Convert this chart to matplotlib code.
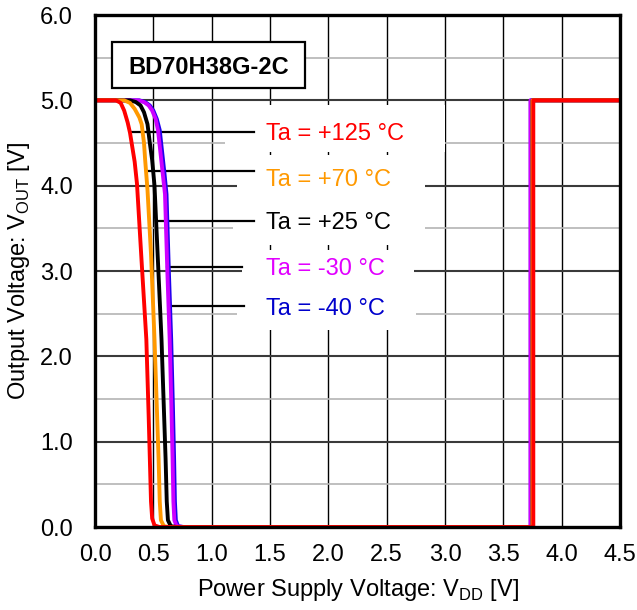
import matplotlib
matplotlib.use("Agg")
import matplotlib.pyplot as plt
from matplotlib.patches import Rectangle

plt.rcParams['font.family'] = ['Liberation Sans', 'DejaVu Sans']
plt.rcParams['mathtext.fontset'] = 'custom'
plt.rcParams['mathtext.rm'] = 'Liberation Sans'

# ---- data ----
x_m40 = [0, 0.38, 0.43, 0.47, 0.50, 0.53, 0.555, 0.575, 0.595, 0.613, 0.633, 0.653, 0.668, 0.678, 0.685, 0.693, 0.712, 0.76, 3.735, 3.735, 4.5]
y_m40 = [5, 5, 4.98, 4.94, 4.88, 4.78, 4.65, 4.4, 4.15, 3.9, 3.0, 2.2, 1.4, 0.8, 0.3, 0.08, 0.01, 0, 0, 5, 5]

x_m30 = [0, 0.37, 0.42, 0.46, 0.49, 0.52, 0.54, 0.56, 0.58, 0.60, 0.62, 0.64, 0.655, 0.665, 0.672, 0.68, 0.70, 0.75, 3.733, 3.733, 4.5]
y_m30 = [5, 5, 4.98, 4.94, 4.88, 4.78, 4.65, 4.4, 4.15, 3.9, 3.0, 2.2, 1.4, 0.8, 0.3, 0.08, 0.01, 0, 0, 5, 5]

x_25 = [0, 0.30, 0.35, 0.39, 0.42, 0.45, 0.47, 0.49, 0.51, 0.54, 0.57, 0.59, 0.605, 0.615, 0.625, 0.65, 0.70, 3.75, 3.75, 4.5]
y_25 = [5, 5, 4.98, 4.94, 4.86, 4.72, 4.5, 4.3, 4.0, 3.1, 2.2, 1.4, 0.8, 0.3, 0.08, 0.01, 0, 0, 5, 5]

x_70 = [0, 0.25, 0.30, 0.34, 0.38, 0.40, 0.42, 0.43, 0.45, 0.48, 0.51, 0.53, 0.545, 0.555, 0.565, 0.59, 0.63, 3.75, 3.75, 4.5]
y_70 = [5, 5, 4.97, 4.9, 4.8, 4.72, 4.5, 4.3, 3.95, 3.2, 2.2, 1.4, 0.8, 0.3, 0.08, 0.01, 0, 0, 5, 5]

x_125 = [0, 0.18, 0.22, 0.25, 0.28, 0.30, 0.32, 0.34, 0.36, 0.40, 0.44, 0.46, 0.47, 0.48, 0.49, 0.51, 0.55, 3.757, 3.757, 4.5]
y_125 = [5, 5, 4.97, 4.88, 4.74, 4.62, 4.45, 4.28, 4.02, 3.1, 2.2, 1.3, 0.8, 0.3, 0.1, 0.02, 0, 0, 5, 5]

labels = ['Ta = +125 °C', 'Ta = +70 °C', 'Ta = +25 °C', 'Ta = -30 °C', 'Ta = -40 °C']
label_y = [4.64, 4.10, 3.59, 3.05, 2.58]
leader_y = [4.63, 4.17, 3.59, 3.05, 2.59]
leader_x0 = [0.30, 0.45, 0.55, 0.62, 0.65]
leader_x1 = [1.36, 1.36, 1.36, 1.26, 1.28]
label_colors = ['#FF0000', '#FF9900', '#000000', '#E100FF', '#0000CC']

title_text = 'BD70H38G-2C'
xticks = [0.0, 0.5, 1.0, 1.5, 2.0, 2.5, 3.0, 3.5, 4.0, 4.5]
yticks = [0.0, 1.0, 2.0, 3.0, 4.0, 5.0, 6.0]

# ---- figure ----
fig = plt.figure(figsize=(6.37, 6.10), dpi=100)
ax = fig.add_axes([95/637, 1-527/610, 525/637, 512/610])
ax.set_xlim(0, 4.5)
ax.set_ylim(0, 6)

# grid
for xv in [0.5, 1.0, 1.5, 2.0, 2.5, 3.0, 3.5, 4.0]:
    ax.axvline(xv, color='#000000', lw=1.0, zorder=1)
for yv in [1, 2, 3, 4, 5]:
    ax.axhline(yv, color='#3a3a3a', lw=1.5, zorder=1)
for yv in [0.5, 1.5, 2.5, 3.5, 4.5, 5.5]:
    ax.axhline(yv, color='#b4b4b4', lw=1.2, zorder=1)

# white boxes behind labels (hide grid)
boxes = [(1.114, 4.39, 3.0, 4.95), (1.22, 3.83, 2.83, 4.36), (1.18, 3.30, 2.83, 3.83),
         (1.26, 2.78, 2.73, 3.25), (1.22, 2.31, 2.75, 2.78)]
for (bx0, by0, bx1, by1) in boxes:
    ax.add_patch(Rectangle((bx0, by0), bx1-bx0, by1-by0, facecolor='white', edgecolor='none', zorder=2))

# curves
lw = 2.8
ax.plot(x_m40, y_m40, color='#2200EE', lw=lw, zorder=4, solid_joinstyle='round')
ax.plot(x_m30, y_m30, color='#CC00FF', lw=lw, zorder=5, solid_joinstyle='round')
ax.plot(x_25, y_25, color='#000000', lw=lw, zorder=6, solid_joinstyle='round')
ax.plot(x_70, y_70, color='#FF9900', lw=lw, zorder=7, solid_joinstyle='round')
ax.plot(x_125, y_125, color='#FF0000', lw=lw, zorder=8, solid_joinstyle='round')

# leader lines and labels
for lab, ly, ty, x0, x1, c in zip(labels, leader_y, label_y, leader_x0, leader_x1, label_colors):
    ax.plot([x0, x1], [ly, ly], color='black', lw=1.6, zorder=3)
    ax.text(1.466, ty, lab, color=c, fontsize=17, ha='left', va='center_baseline', zorder=9)

# title box
ax.add_patch(Rectangle((0.146, 5.14), 1.80-0.146, 5.68-5.14, facecolor='white',
                       edgecolor='black', lw=1.6, zorder=9))
ax.text((0.146+1.80)/2, 5.41, title_text, fontsize=17, fontweight='bold',
        ha='center', va='center_baseline', zorder=10)

# axes styling
ax.set_xticks(xticks)
ax.set_yticks(yticks)
ax.set_xticklabels([f'{v:.1f}' for v in xticks])
ax.set_yticklabels([f'{v:.1f}' for v in yticks])
ax.tick_params(length=0, labelsize=17)
ax.tick_params(axis='x', pad=12)
ax.tick_params(axis='y', pad=16)
for s in ax.spines.values():
    s.set_linewidth(2.4)
    s.set_zorder(11)

ax.set_xlabel(r'Power Supply Voltage: V$_{\mathregular{DD}}$ [V]', fontsize=17, labelpad=8)
ax.set_ylabel(r'Output Voltage: V$_{\mathregular{OUT}}$ [V]', fontsize=17, labelpad=6)

fig.savefig('out.png', dpi=100)
